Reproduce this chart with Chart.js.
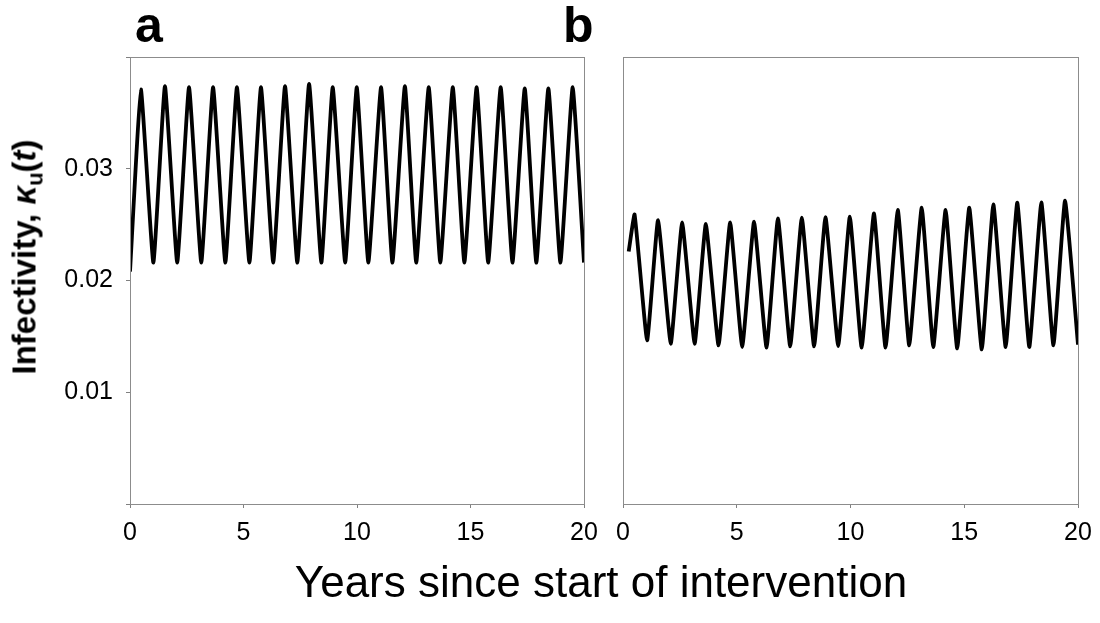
<!DOCTYPE html>
<html>
<head>
<meta charset="utf-8">
<script src="https://cdn.jsdelivr.net/npm/chart.js@4/dist/chart.umd.min.js"></script>
<style>
  body { margin: 0; background: #fff; }
  #wrap { position: relative; width: 1100px; height: 623px; font-family: "Liberation Sans", Arial, sans-serif; }
  canvas { position: absolute; top: 0; }
  #cA { left: 0; }
  #cB { left: 600px; }
  .panel { position: absolute; top: 0; font-weight: bold; font-size: 50px; line-height: 1; }
  #yTitle { position: absolute; left: 27px; top: 257px; transform: translate(-50%, -50%) rotate(-90deg);
            font-weight: bold; font-size: 33px; white-space: nowrap; }
  #yTitle sub { font-size: 22px; vertical-align: -7px; }
  #xTitle { position: absolute; left: 601px; top: 582px; transform: translate(-50%, -50%);
            font-size: 44px; white-space: nowrap; }
</style>
</head>
<body>
<div id="wrap">
  <canvas id="cA" width="600" height="623"></canvas>
  <canvas id="cB" width="500" height="623"></canvas>
  <div class="panel" style="left:135px">a</div>
  <div class="panel" style="left:563px">b</div>
  <div id="yTitle">Infectivity, <i>κ</i><sub>u</sub>(<i>t</i>)</div>
  <div id="xTitle">Years since start of intervention</div>
</div>
<script>
// === DATA (turning points) ===
const xTicks = [0, 5, 10, 15, 20];
const yTicks = [0.01, 0.02, 0.03];

const aYears = [0, 0.48, 1.03, 1.54, 2.08, 2.60, 3.14, 3.66, 4.20, 4.71, 5.26, 5.77, 6.31, 6.83,
    7.37, 7.89, 8.43, 8.93, 9.48, 9.99, 10.50, 11.06, 11.56, 12.11, 12.61, 13.16, 13.67, 14.22,
    14.73, 15.27, 15.78, 16.33, 16.85, 17.39, 17.90, 18.43, 18.96, 19.50, 20];
const aValues = [0.0208, 0.0371, 0.0216, 0.0374, 0.0216, 0.0373, 0.0216, 0.0373, 0.0216, 0.0373,
    0.0216, 0.0373, 0.0216, 0.0374, 0.0216, 0.0376, 0.0216, 0.0373, 0.0216, 0.0373, 0.0216, 0.0373,
    0.0216, 0.0374, 0.0216, 0.0373, 0.0216, 0.0373, 0.0216, 0.0373, 0.0216, 0.0373, 0.0216, 0.0372,
    0.0216, 0.0372, 0.0216, 0.0373, 0.0216];

const bYears = [0.25, 0.51, 1.06, 1.54, 2.10, 2.60, 3.15, 3.64, 4.20, 4.71, 5.24, 5.76, 6.31, 6.81,
    7.35, 7.86, 8.40, 8.90, 9.46, 9.97, 10.49, 11.03, 11.54, 12.08, 12.58, 13.13, 13.64, 14.18,
    14.69, 15.22, 15.77, 16.28, 16.82, 17.33, 17.86, 18.39, 18.92, 19.43, 20];
const bValues = [0.0226, 0.0259, 0.01464, 0.02541, 0.01434, 0.0252, 0.01434, 0.02506, 0.01419,
    0.0252, 0.01405, 0.02526, 0.01399, 0.02556, 0.0141, 0.02562, 0.0141, 0.02568, 0.01414, 0.02571,
    0.01399, 0.026, 0.01399, 0.02631, 0.01419, 0.02651, 0.01405, 0.02631, 0.01392, 0.02651, 0.01383,
    0.02681, 0.01405, 0.02696, 0.01405, 0.02699, 0.01419, 0.02714, 0.01426];

const AXIS_GREY = "#808080";
const tickFont = { family: "'Liberation Sans', Arial, sans-serif", size: 25 };

// box round the plot area
const frame = {
    id: "frame",
    afterDraw(chart) {
        const { ctx, chartArea: a } = chart;
        ctx.save();
        ctx.strokeStyle = "#8c8c8c";
        ctx.lineWidth = 1;
        ctx.strokeRect(a.left + 0.5, a.top + 0.5, a.right - a.left, a.bottom - a.top);
        ctx.restore();
    }
};

function makePanel(id, years, values, showY, padding) {
    return new Chart(document.getElementById(id), {
        type: "line",
        data: {
            datasets: [{
                data: years.map((x, i) => ({ x, y: values[i] })),
                borderColor: "#000",
                borderWidth: 3.8,
                pointRadius: 0,
                tension: 0.12,
                fill: false
            }]
        },
        options: {
            responsive: false,
            animation: false,
            layout: { padding },
            plugins: { legend: { display: false }, tooltip: { enabled: false } },
            scales: {
                x: {
                    type: "linear", min: 0, max: 20,
                    afterFit: s => { s.height = 119; s.paddingLeft = 0; s.paddingRight = 0; },
                    afterBuildTicks: s => { s.ticks = xTicks.map(v => ({ value: v })); },
                    ticks: { color: "#000", font: tickFont, padding: 10, maxRotation: 0 },
                    grid: { drawOnChartArea: false, tickLength: 4, color: AXIS_GREY },
                    border: { color: AXIS_GREY }
                },
                y: {
                    min: 0, max: 0.04,
                    afterFit: s => { s.width = showY ? 130 : 0; s.paddingTop = 0; s.paddingBottom = 0; },
                    afterBuildTicks: s => { s.ticks = [0, ...yTicks, 0.04].map(v => ({ value: v })); },
                    ticks: {
                        display: showY, color: "#000", font: tickFont, padding: 13,
                        callback: v => yTicks.some(t => Math.abs(t - v) < 1e-9) ? v.toFixed(2) : ""
                    },
                    grid: { drawOnChartArea: false, drawTicks: showY, tickLength: 4, color: AXIS_GREY },
                    border: { color: AXIS_GREY }
                }
            }
        },
        plugins: [frame]
    });
}

makePanel("cA", aYears, aValues, true, { top: 57, right: 16, left: 0, bottom: 0 });
makePanel("cB", bYears, bValues, false, { top: 57, right: 22, left: 23, bottom: 0 });
</script>
</body>
</html>
